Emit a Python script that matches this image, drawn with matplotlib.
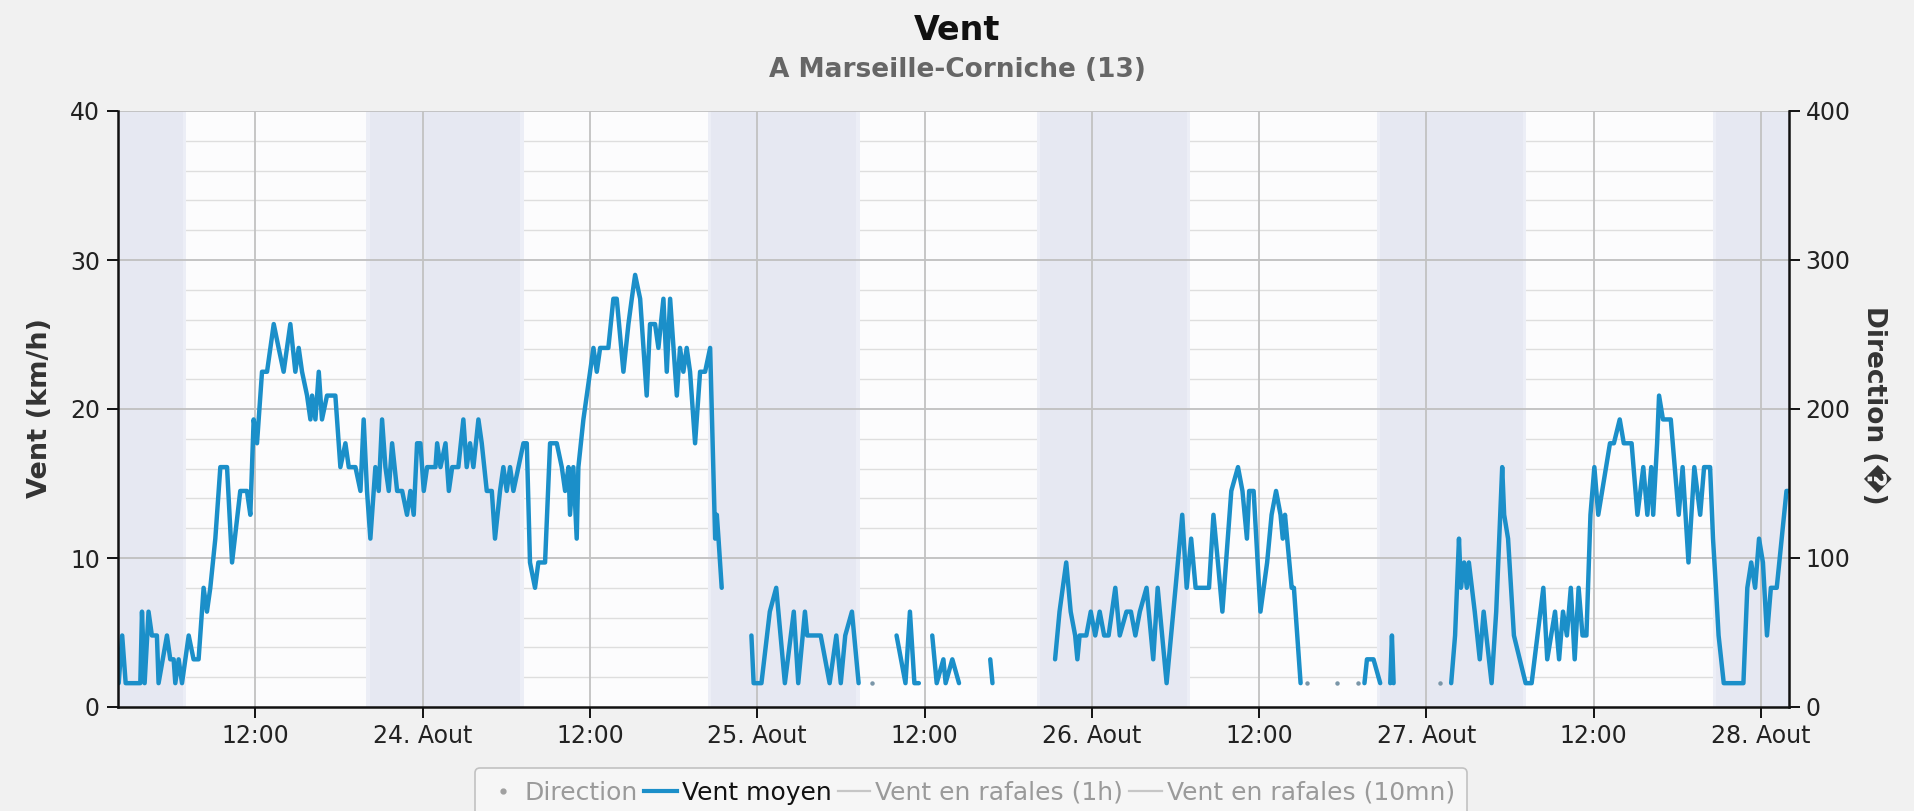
import numpy as np
import matplotlib
matplotlib.use("Agg")
import matplotlib.pyplot as plt
from matplotlib.lines import Line2D

# heures depuis le 23 aout 00:00, None = pas de mesure
heures = [
    2.20, 2.45, 2.70, 3.03, 3.75, 3.87, 4.06, 4.34, 4.58, 4.94, 5.06, 5.66, 5.90, 6.14, 6.26,
    6.50, 6.74, 7.22, 7.57, 7.93, 8.29, 8.53, 8.77, 9.13, 9.49, 9.97, 10.33, 10.92, 11.40, 11.64,
    11.88, 12.12, 12.48, 12.84, 13.32, 13.67, 14.03, 14.51, 14.87, 15.11, 15.35, 15.71, 15.95, 16.07,
    16.31, 16.55, 16.78, 17.14, 17.74, 18.10, 18.46, 18.70, 19.18, 19.54, 19.77, 20.01, 20.25, 20.61,
    20.85, 21.09, 21.33, 21.57, 21.81, 22.17, 22.53, 22.88, 23.12, 23.36, 23.60, 23.84, 24.08, 24.32,
    24.92, 25.04, 25.28, 25.64, 25.88, 26.12, 26.32, 26.56, 26.92, 27.16, 27.40, 27.64, 28.00, 28.24,
    28.60, 28.96, 29.19, 29.55, 29.79, 30.03, 30.27, 30.51, 30.87, 31.23, 31.47, 31.70, 32.06, 32.30,
    32.78, 33.14, 33.62, 33.98, 34.22, 34.46, 34.57, 34.81, 35.05, 35.17, 35.53, 35.77, 36.01, 36.25,
    36.49, 36.73, 37.09, 37.32, 37.68, 37.92, 38.40, 38.76, 39.00, 39.24, 39.60, 40.07, 40.31, 40.67,
    40.91, 41.27, 41.51, 41.75, 41.99, 42.23, 42.46, 42.70, 42.94, 43.18, 43.54, 43.90, 44.26, 44.62,
    44.98, 45.10, 45.22, 45.45, 46.50,
    47.58, 47.74, 48.30, 48.90, 49.36, 49.98, 50.62, 50.94, 51.42, 51.58, 52.55, 53.19, 53.67, 53.99,
    54.31, 54.79, 55.27, 55.70, 56.20, 56.70,
    57.99, 58.63, 58.95, 59.27, 59.59, 60.00,
    60.55, 60.87, 61.35, 61.51, 61.99, 62.47, 63.50,
    64.71, 64.87, 66.00,
    69.36, 69.68, 70.16, 70.48, 70.80, 70.96, 71.12, 71.60, 71.92, 72.24, 72.56, 72.88, 73.20, 73.68,
    74.00, 74.48, 74.80, 75.12, 75.44, 75.92, 76.40, 76.72, 77.36, 78.00, 78.48, 78.80, 79.12, 79.44,
    80.40, 80.72, 81.04, 81.36, 82.00, 82.48, 82.80, 83.12, 83.28, 83.60, 84.09, 84.57, 84.89, 85.21,
    85.53, 85.69, 85.85, 86.33, 86.49, 86.97, 87.20, 87.40, 88.50, 89.60, 90.40, 91.10, 91.30,
    91.55, 91.73, 92.20, 92.68, 93.00,
    93.40, 93.52, 93.64, 95.00, 97.00, 97.40,
    97.77, 98.05, 98.33, 98.47, 98.70, 98.89, 99.04, 99.46, 99.82, 100.10, 100.67, 101.00, 101.43,
    101.57, 101.85, 102.27, 102.69, 103.11, 103.54, 103.96, 104.38, 104.66, 104.94, 105.22, 105.51,
    105.79, 106.07, 106.35, 106.63, 106.91, 107.19, 107.47, 107.76, 108.04, 108.32, 108.60, 108.88,
    109.16, 109.44, 109.86, 110.15, 110.71, 111.13, 111.55, 111.84, 112.12, 112.26, 112.54, 112.68,
    112.96, 113.52, 114.09, 114.37, 114.79, 115.21, 115.63, 115.91, 116.34, 116.55, 116.76, 116.95,
    117.32, 118.73, 119.01, 119.29, 119.57, 119.85, 120.13, 120.42, 120.70, 121.12, 121.82, 122.00,
]

vent_moyen = [
    1.6, 4.8, 1.6, 1.6, 1.6, 6.4, 1.6, 6.4, 4.8, 4.8, 1.6, 4.8, 3.2, 3.2, 1.6,
    3.2, 1.6, 4.8, 3.2, 3.2, 8.0, 6.4, 8.0, 11.3, 16.1, 16.1, 9.7, 14.5, 14.5, 12.9,
    19.3, 17.7, 22.5, 22.5, 25.7, 24.1, 22.5, 25.7, 22.5, 24.1, 22.5, 20.9, 19.3, 20.9,
    19.3, 22.5, 19.3, 20.9, 20.9, 16.1, 17.7, 16.1, 16.1, 14.5, 19.3, 14.5, 11.3, 16.1,
    14.5, 19.3, 16.1, 14.5, 17.7, 14.5, 14.5, 12.9, 14.5, 12.9, 17.7, 17.7, 14.5, 16.1,
    16.1, 17.7, 16.1, 17.7, 14.5, 16.1, 16.1, 16.1, 19.3, 16.1, 17.7, 16.1, 19.3, 17.7,
    14.5, 14.5, 11.3, 14.5, 16.1, 14.5, 16.1, 14.5, 16.1, 17.7, 17.7, 9.7, 8.0, 9.7,
    9.7, 17.7, 17.7, 16.1, 14.5, 16.1, 12.9, 16.1, 11.3, 16.1, 19.3, 20.9, 22.5, 24.1,
    22.5, 24.1, 24.1, 24.1, 27.4, 27.4, 22.5, 25.7, 27.4, 29.0, 27.4, 20.9, 25.7, 25.7,
    24.1, 27.4, 22.5, 27.4, 24.1, 20.9, 24.1, 22.5, 24.1, 22.5, 17.7, 22.5, 22.5, 24.1,
    11.3, 12.9, 11.3, 8.0, None,
    4.8, 1.6, 1.6, 6.4, 8.0, 1.6, 6.4, 1.6, 6.4, 4.8, 4.8, 1.6, 4.8, 1.6,
    4.8, 6.4, 1.6, None, 1.6, None,
    4.8, 1.6, 6.4, 1.6, 1.6, None,
    4.8, 1.6, 3.2, 1.6, 3.2, 1.6, None,
    3.2, 1.6, None,
    3.2, 6.4, 9.7, 6.4, 4.8, 3.2, 4.8, 4.8, 6.4, 4.8, 6.4, 4.8, 4.8, 8.0,
    4.8, 6.4, 6.4, 4.8, 6.4, 8.0, 3.2, 8.0, 1.6, 8.0, 12.9, 8.0, 11.3, 8.0,
    8.0, 12.9, 9.7, 6.4, 14.5, 16.1, 14.5, 11.3, 14.5, 14.5, 6.4, 9.7, 12.9, 14.5,
    12.9, 11.3, 12.9, 8.0, 8.0, 1.6, None, 1.6, None, 1.6, None, 1.6, None,
    1.6, 3.2, 3.2, 1.6, None,
    1.6, 4.8, 1.6, None, 1.6, None,
    1.6, 4.8, 11.3, 8.0, 9.7, 8.0, 9.7, 6.4, 3.2, 6.4, 1.6, 6.4, 16.1,
    12.9, 11.3, 4.8, 3.2, 1.6, 1.6, 4.8, 8.0, 3.2, 4.8, 6.4, 3.2,
    6.4, 4.8, 8.0, 3.2, 8.0, 4.8, 4.8, 12.9, 16.1, 12.9, 14.5, 16.1,
    17.7, 17.7, 19.3, 17.7, 17.7, 12.9, 16.1, 12.9, 16.1, 12.9, 17.7, 20.9,
    19.3, 19.3, 12.9, 16.1, 9.7, 16.1, 12.9, 16.1, 16.1, 11.3, 8.0, 4.8,
    1.6, 1.6, 8.0, 9.7, 8.0, 11.3, 9.7, 4.8, 8.0, 8.0, 14.5, 14.5,
]

# nuits (heures depuis le 23 aout 00:00)
nuit_debut = [-4.0, 20.2, 44.7, 68.3, 92.7, 116.8]
nuit_fin = [6.8, 31.0, 55.1, 78.8, 102.9, 130.0]

legende = ["Direction", "Vent moyen", "Vent en rafales (1h)", "Vent en rafales (10mn)"]

BLEU = "#1b8fc9"

x = np.array(heures, dtype=float)
y = np.array([np.nan if v is None else v for v in vent_moyen], dtype=float)

fig = plt.figure(figsize=(19.15, 8.11), dpi=100, facecolor="#f1f1f1")
ax = fig.add_axes([118 / 1915, 1 - 707 / 811, (1789 - 118) / 1915, (707 - 111) / 811])
ax.set_facecolor("#fcfcfd")

x0, x1 = 2.15, 122.0
ax.set_xlim(x0, x1)
ax.set_ylim(0, 40)

# grille secondaire, sous les bandes de nuit
for v in np.arange(2, 40, 2):
    if v % 10:
        ax.axhline(v, color="#dedede", lw=1.0, zorder=0.2)

for d, f in zip(nuit_debut, nuit_fin):
    ax.axvspan(d - 0.25, f + 0.25, color="#eceef6", lw=0, zorder=0.4)
    ax.axvspan(d, f, color="#e6e8f2", lw=0, zorder=0.5)

ticks = np.arange(12, 121, 12)
for v in [10, 20, 30, 40]:
    ax.axhline(v, color="#c0c0c0", lw=1.3, zorder=1)
for t in ticks:
    ax.axvline(t, color="#c2c2c2", lw=1.3, zorder=1)

ax.plot(x, y, color=BLEU, lw=3.2, solid_joinstyle="round", solid_capstyle="round", zorder=3)

# points isoles (voisins manquants)
iso = [i for i in range(len(y)) if not np.isnan(y[i])
       and (i == 0 or np.isnan(y[i - 1])) and (i == len(y) - 1 or np.isnan(y[i + 1]))]
ax.plot(x[iso], y[iso], ls="none", marker="o", ms=2.2, color="#7a96a8", zorder=3)


def etiquette(h):
    if h % 24 == 0:
        return f"{23 + int(h // 24)}. Aout"
    return "12:00"


ax.set_xticks(ticks)
ax.set_xticklabels([etiquette(h) for h in ticks])
ax.set_yticks([0, 10, 20, 30, 40])

ax.spines["top"].set_visible(False)
ax.spines["right"].set_visible(False)
for s in ["left", "bottom"]:
    ax.spines[s].set_color("#111111")
    ax.spines[s].set_linewidth(1.8)
    ax.spines[s].set_zorder(4)

ax.tick_params(axis="both", labelsize=17, colors="#111111", length=8, width=1.4,
               labelcolor="#222222")
ax.tick_params(axis="y", pad=5)
ax.tick_params(axis="x", pad=4)

ax2 = ax.twinx()
ax2.set_ylim(0, 400)
ax2.set_yticks([0, 100, 200, 300, 400])
for s in ["top", "left", "bottom"]:
    ax2.spines[s].set_visible(False)
ax2.spines["right"].set_color("#111111")
ax2.spines["right"].set_linewidth(1.8)
ax2.tick_params(axis="y", labelsize=17, colors="#111111", length=8, width=1.4,
                labelcolor="#222222", pad=4)

fig.text(0.5, 1 - 30 / 811, "Vent", ha="center", va="center", fontsize=24,
         fontweight="bold", color="#111111")
fig.text(0.5, 1 - 70 / 811, "A Marseille-Corniche (13)", ha="center", va="center",
         fontsize=19, fontweight="bold", color="#666666")
fig.text(40 / 1915, 1 - 408 / 811, "Vent (km/h)", rotation=90, ha="center", va="center",
         fontsize=19.5, fontweight="bold", color="#333333")
fig.text(1875 / 1915, 1 - 405 / 811, "Direction (\ufffd)", rotation=270, ha="center",
         va="center", fontsize=19, fontweight="bold", color="#333333")

poignees = [
    Line2D([], [], ls="none", marker="o", ms=3.5, color="#a0a0a0"),
    Line2D([], [], color=BLEU, lw=3),
    Line2D([], [], color="#c6c6c6", lw=1.6),
    Line2D([], [], color="#c6c6c6", lw=1.6),
]
leg = fig.legend(poignees, legende, loc="upper center", bbox_to_anchor=(0.507, 0.068),
                 ncol=4, fontsize=18, frameon=True, handlelength=1.3, handletextpad=0.2,
                 columnspacing=0.25, borderpad=0.5, fancybox=True)
leg.get_frame().set_edgecolor("#b5b5b5")
leg.get_frame().set_facecolor("#f8f8f8")
leg.get_frame().set_linewidth(1.2)
for txt, c in zip(leg.get_texts(), ["#9a9a9a", "#111111", "#9a9a9a", "#9a9a9a"]):
    txt.set_color(c)

fig.savefig("out.png", dpi=100, facecolor=fig.get_facecolor())
